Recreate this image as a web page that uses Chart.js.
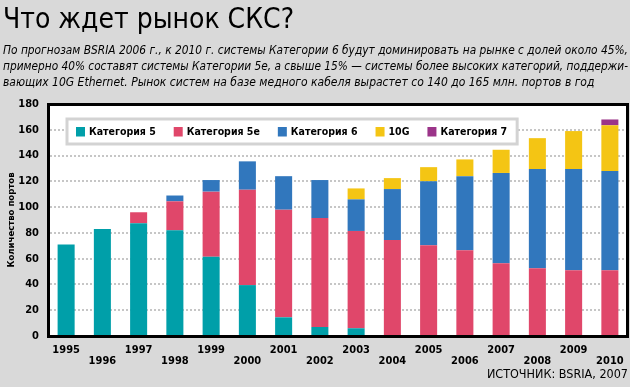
<!DOCTYPE html>
<html>
<head>
<meta charset="utf-8">
<script src="https://cdn.jsdelivr.net/npm/chart.js@4/dist/chart.umd.min.js"></script>
<style>
  html, body { margin: 0; padding: 0; background: #d9d9d9; }
  #wrap { width: 630px; height: 387px; position: relative; }
</style>
</head>
<body>
<div id="wrap"><canvas id="chart"></canvas></div>
<script>
// Data (millions of ports)
const years = ['1995', '1996', '1997', '1998', '1999', '2000', '2001', '2002',
               '2003', '2004', '2005', '2006', '2007', '2008', '2009', '2010'];
const cat5  = [71, 83, 87.5, 82, 61.5, 39.5, 14.5, 7, 6, 0, 0, 0, 0, 0, 0, 0];
const cat5e = [0, 0, 8.5, 22.5, 50.5, 74, 83.5, 84.5, 75.5, 74.5, 70.5, 66.5, 56.5, 52.5, 51, 51];
const cat6  = [0, 0, 0, 4.5, 9, 22, 26, 29.5, 24.5, 39.5, 49.5, 57.5, 70, 77, 78.5, 77];
const tenG  = [0, 0, 0, 0, 0, 0, 0, 0, 8.5, 8.5, 11, 13, 18, 24, 29.5, 35.5];
const cat7  = [0, 0, 0, 0, 0, 0, 0, 0, 0, 0, 0, 0, 0, 0, 0, 4.5];

const seriesNames = ['Категория 5', 'Категория 5e', 'Категория 6', '10G', 'Категория 7'];
const seriesColors = ['#009fa9', '#e0476a', '#3177bd', '#f4c514', '#9b3489'];

const condensed = '"DejaVu Sans Condensed", "Liberation Sans Narrow", sans-serif';

// white plot background, top/right frame and boxed legend
const framePlugin = {
  id: 'frame',
  beforeDraw(chart) {
    const { ctx, chartArea: ca } = chart;
    ctx.save();
    ctx.fillStyle = '#ffffff';
    ctx.fillRect(ca.left, ca.top, ca.right - ca.left, ca.bottom - ca.top);
    ctx.restore();
  },
  afterDatasetsDraw(chart) {
    const { ctx, chartArea: ca } = chart;
    ctx.save();
    ctx.strokeStyle = '#000';
    ctx.lineWidth = 3;
    ctx.beginPath();
    ctx.moveTo(ca.left, ca.top + 0.5);
    ctx.lineTo(ca.right - 0.5, ca.top + 0.5);
    ctx.lineTo(ca.right - 0.5, ca.bottom);
    ctx.stroke();

    // legend
    const sets = chart.data.datasets;
    ctx.font = 'bold 10.5px ' + condensed;
    const sq = 9, gapText = 4, gapItem = 18, padL = 9, padR = 10, h = 25;
    const widths = sets.map(ds => sq + gapText + ctx.measureText(ds.label).width);
    const boxW = padL + padR + widths.reduce((a, b) => a + b, 0) + gapItem * (sets.length - 1);
    const bx = ca.left + 19, by = ca.top + 15;
    ctx.fillStyle = '#ffffff';
    ctx.fillRect(bx, by, boxW, h);
    ctx.strokeStyle = '#d3d3d3';
    ctx.lineWidth = 3;
    ctx.strokeRect(bx, by, boxW, h);
    let x = bx + padL;
    const cy = by + h / 2;
    ctx.textBaseline = 'middle';
    sets.forEach((ds, i) => {
      ctx.fillStyle = ds.backgroundColor;
      ctx.fillRect(x, cy - 4.5, sq, 9.5);
      ctx.fillStyle = '#000';
      ctx.fillText(ds.label, x + sq + gapText, cy + 0.5);
      x += widths[i] + gapItem;
    });
    ctx.restore();
  }
};

const values = [cat5, cat5e, cat6, tenG, cat7];

new Chart(document.getElementById('chart'), {
  type: 'bar',
  data: {
    labels: years,
    datasets: values.map((v, i) => ({
      label: seriesNames[i],
      data: v,
      backgroundColor: seriesColors[i],
      borderWidth: 0,
      barPercentage: 0.47,
      categoryPercentage: 1
    }))
  },
  options: {
    responsive: true,
    maintainAspectRatio: false,
    animation: false,
    layout: { padding: { left: 3, right: 2, top: 0, bottom: 0 } },
    plugins: {
      legend: { display: false },
      tooltip: { enabled: false },
      title: {
        display: true,
        text: 'Что ждет рынок СКС?',
        align: 'start',
        color: '#000',
        font: { family: condensed, size: 28, weight: 'normal', lineHeight: 1 },
        padding: { top: 7, bottom: 5 }
      },
      subtitle: {
        display: true,
        text: [
          'По прогнозам BSRIA 2006 г., к 2010 г. системы Категории 6 будут доминировать на рынке с долей около 45%,',
          'примерно 40% составят системы Категории 5e, а свыше 15% — системы более высоких категорий, поддержи-',
          'вающих 10G Ethernet. Рынок систем на базе медного кабеля вырастет со 140 до 165 млн. портов в год'
        ],
        align: 'start',
        color: '#000',
        font: { family: condensed, size: 12, style: 'italic', lineHeight: 16 / 12 },
        padding: { top: 3, bottom: 13 }
      }
    },
    scales: {
      x: {
        stacked: true,
        afterFit(scale) { scale.height = 51; },
        grid: { display: false },
        border: { color: '#000', width: 3, z: 1 },
        ticks: {
          autoSkip: false,
          maxRotation: 0,
          padding: 0,
          color: '#000',
          font: { family: condensed, size: 11, weight: 'bold', lineHeight: 1.05 },
          callback(value, index) {
            const t = this.getLabelForValue(value);
            return index % 2 === 0 ? [t, ''] : ['', t];
          }
        },
        title: {
          display: true,
          text: 'ИСТОЧНИК: BSRIA, 2007',
          align: 'end',
          color: '#000',
          font: { family: condensed, size: 12.5, lineHeight: 1.2 },
          padding: { top: 0, bottom: 5 }
        }
      },
      y: {
        stacked: true,
        min: 0,
        max: 180,
        afterFit(scale) { scale.width = 45; },
        border: { color: '#000', width: 3, z: 1, dash: [2, 2] },
        grid: {
          color: '#c6c6c6',
          lineWidth: 2,
          drawTicks: false
        },
        ticks: {
          stepSize: 20,
          padding: 9,
          color: '#000',
          font: { family: condensed, size: 11, weight: 'bold' }
        },
        title: {
          display: true,
          text: 'Количество портов',
          color: '#000',
          font: { family: condensed, size: 9.5, weight: 'bold', lineHeight: 1.2 },
          padding: { top: 3, bottom: 0 }
        }
      }
    }
  },
  plugins: [framePlugin]
});
</script>
</body>
</html>
